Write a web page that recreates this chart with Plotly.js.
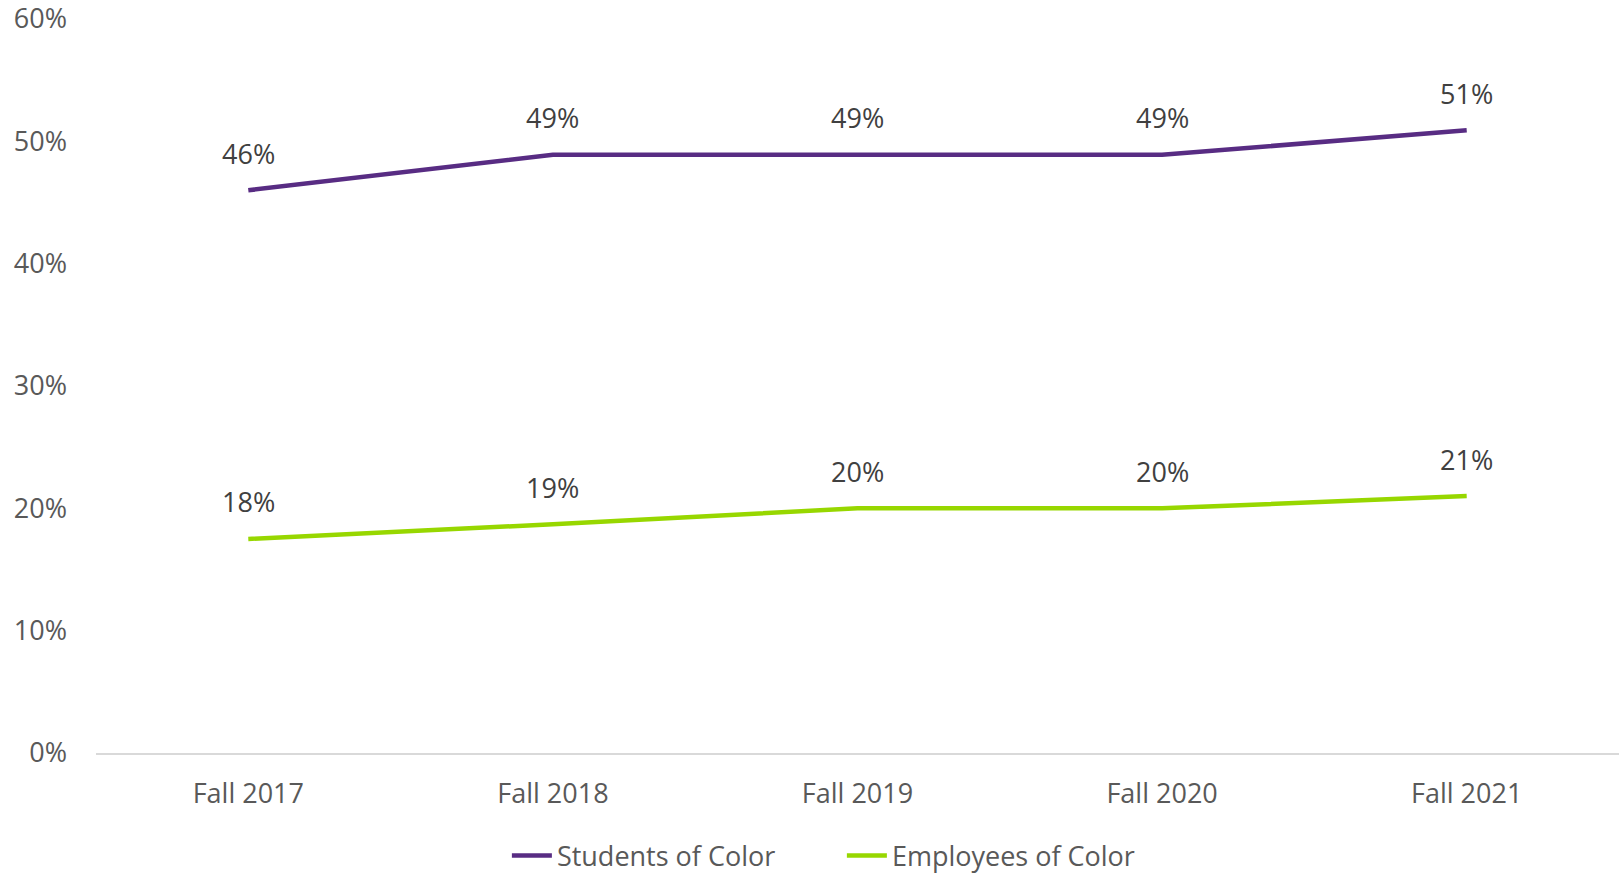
<!DOCTYPE html>
<html>
<head>
<meta charset="utf-8">
<script src="https://cdn.plot.ly/plotly-3.0.1.min.js"></script>
<style>html,body{margin:0;padding:0;background:#fff;}#chart{width:1619px;height:874px;}</style>
</head>
<body>
<div id="chart"></div>
<script>
const categories = ["Fall 2017", "Fall 2018", "Fall 2019", "Fall 2020", "Fall 2021"];
const studentsValues = [46, 48.9, 48.9, 48.9, 50.9];
const studentsLabels = ["46%", "49%", "49%", "49%", "51%"];
const employeesValues = [17.5, 18.7, 20, 20, 21];
const employeesLabels = ["18%", "19%", "20%", "20%", "21%"];
const seriesNames = ["Students of Color", "Employees of Color"];
const yTicks = [0, 10, 20, 30, 40, 50, 60];
const yTickLabels = ["0%", "10%", "20%", "30%", "40%", "50%", "60%"];

const FONT = "'Open Sans', 'Liberation Sans', sans-serif";
const FS = 27;
const purple = "#582C83";
const green = "#97D700";

const traces = [
  {x: categories, y: studentsValues, name: seriesNames[0], type: "scatter", mode: "lines",
   line: {color: purple, width: 4.5}, hoverinfo: "skip"},
  {x: categories, y: employeesValues, name: seriesNames[1], type: "scatter", mode: "lines",
   line: {color: green, width: 4.5}, hoverinfo: "skip"}
];

const annotations = [];
[[studentsValues, studentsLabels], [employeesValues, employeesLabels]].forEach(([vals, labs]) => {
  vals.forEach((v, i) => {
    annotations.push({x: categories[i], y: v, xref: "x", yref: "y", text: labs[i],
      showarrow: false, yshift: 37, font: {family: FONT, size: FS, color: "#404040"}});
  });
});

const layout = {
  width: 1619, height: 874,
  paper_bgcolor: "#fff", plot_bgcolor: "#fff",
  margin: {l: 96, r: 0, t: 19, b: 121},
  showlegend: true,
  legend: {orientation: "h", xref: "container", yref: "container",
    x: 0.52, xanchor: "center", y: 0.0206, yanchor: "middle",
    entrywidth: 280, entrywidthmode: "pixels",
    font: {family: FONT, size: FS, color: "#595959"}, itemwidth: 40},
  xaxis: {type: "category", range: [-0.5, 4.5], showgrid: false, zeroline: false,
    showline: true, linecolor: "#D9D9D9", linewidth: 1.5, ticks: "",
    ticklabelstandoff: 16,
    tickfont: {family: FONT, size: FS, color: "#595959"}, fixedrange: true},
  yaxis: {range: [0, 60], tickmode: "array", tickvals: yTicks, ticktext: yTickLabels,
    showgrid: false, zeroline: false, ticklabeloverflow: "allow",
    showline: false, ticks: "", ticklabelstandoff: 28,
    tickfont: {family: FONT, size: FS, color: "#595959"}, fixedrange: true},
  annotations: annotations
};

Plotly.newPlot("chart", traces, layout, {displayModeBar: false, staticPlot: true});
</script>
</body>
</html>
